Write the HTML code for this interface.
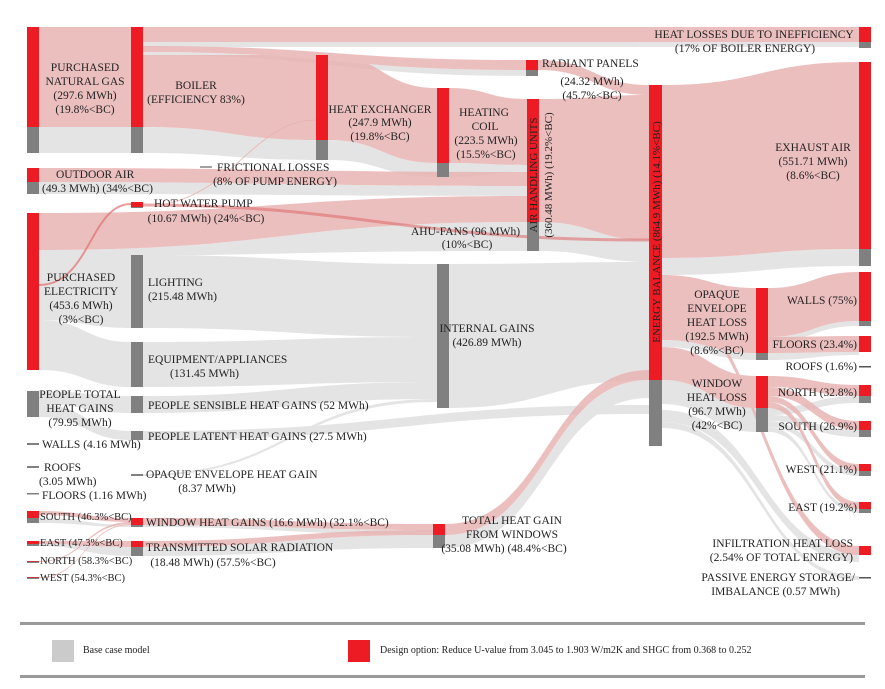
<!DOCTYPE html>
<html><head><meta charset="utf-8"><style>
html,body{margin:0;padding:0;background:#fff;}
svg{display:block;}
text{font-family:"Liberation Serif",serif;font-size:11.5px;fill:#222;}
.p{fill:#e9b4b4;opacity:.85}
.g{fill:#e2e2e2;opacity:.9}
.r{fill:#ed1c24}
.k{fill:#808080}
</style></head><body>
<svg width="885" height="689" viewBox="0 0 885 689" xmlns="http://www.w3.org/2000/svg">
<g class="g">
<rect x="39" y="127" width="92" height="26"/>
<rect x="143" y="42" width="716" height="5"/>
<path d="M143 52 C334 52 334 70 526 70 L526 76 C334 76 334 55 143 55Z"/>
<path d="M143 127 C230 127 230 140 316 140 L316 160 C230 160 230 153 143 153Z"/>
<path d="M328 140 C382 140 382 163 437 163 L437 177 C382 177 382 160 328 160Z"/>
<path d="M449 163 C488 163 488 165 527 165 L527 172 C488 172 488 177 449 177Z"/>
<path d="M39 182 C283 182 283 186 527 186 L527 196 C283 196 283 194 39 194Z"/>
<path d="M39 250 C283 250 283 222 527 222 L527 251 C283 251 283 256 39 256Z"/>
<path d="M539 222 C594 222 594 240 649 240 L649 262 C594 262 594 251 539 251Z"/>
<path d="M39 256 C85 256 85 255 131 255 L131 328 C85 328 85 320 39 320Z"/>
<path d="M39 320 C85 320 85 342 131 342 L131 387 C85 387 85 370 39 370Z"/>
<path d="M143 255 C290 255 290 264 437 264 L437 337 C290 337 290 328 143 328Z"/>
<path d="M143 342 C290 342 290 337 437 337 L437 382 C290 382 290 387 143 387Z"/>
<path d="M143 396 C290 396 290 382 437 382 L437 399 C290 399 290 413 143 413Z"/>
<path d="M143 474 C290 474 290 399 437 399 L437 402 C290 402 290 476 143 476Z"/>
<path d="M39 391 C85 391 85 396 131 396 L131 413 C85 413 85 404 39 404Z"/>
<path d="M39 404 C85 404 85 431 131 431 L131 440 C85 440 85 417 39 417Z"/>
<path d="M143 431 C400 431 400 405 649 405 L649 414 C400 414 400 440 143 440Z"/>
<path d="M449 264 C549 264 549 262 649 262 L649 380 C549 380 549 408 449 408Z"/>
<path d="M445 535 C547 535 547 380 649 380 L649 398 C547 398 547 548 445 548Z"/>
<path d="M39 518 C85 518 85 525 131 525 L131 527 C85 527 85 523 39 523Z"/>
<path d="M39 544 C85 544 85 547 131 547 L131 556 C85 556 85 546 39 546Z"/>
<path d="M143 547 C288 547 288 535 433 535 L433 548 C288 548 288 556 143 556Z"/>
<path d="M143 525 C288 525 288 530 433 530 L433 535 C288 535 288 527 143 527Z"/>
<path d="M662 258 C760 258 760 249 859 249 L859 266 C760 266 760 275 662 275Z"/>
<path d="M662 340 C709 340 709 353 756 353 L756 360 C709 360 709 347 662 347Z"/>
<path d="M662 380 C709 380 709 408 756 408 L756 432 C709 432 709 404 662 404Z"/>
<path d="M662 410 C760 410 760 553 859 553 L859 562 C760 562 760 422 662 422Z"/>
<path d="M662 422 C760 422 760 576 859 576 L859 580 C760 580 760 428 662 428Z"/>
<path d="M768 337 C813 337 813 321 859 321 L859 326 C813 326 813 342 768 342Z"/>
<path d="M768 353 C813 353 813 352 859 352 L859 355 C813 355 813 360 768 360Z"/>
<path d="M768 408 C813 408 813 396 859 396 L859 403 C813 403 813 415 768 415Z"/>
<path d="M768 415 C813 415 813 430 859 430 L859 437 C813 437 813 421 768 421Z"/>
<path d="M768 421 C813 421 813 471 859 471 L859 476 C813 476 813 427 768 427Z"/>
<path d="M768 427 C813 427 813 509 859 509 L859 513 C813 513 813 432 768 432Z"/>
</g>
<g class="p">
<rect x="39" y="27" width="92" height="100"/>
<rect x="143" y="27" width="716" height="15"/>
<path d="M143 46 C334 46 334 60 526 60 L526 70 C334 70 334 52 143 52Z"/>
<path d="M143 55 C230 55 230 55 316 55 L316 140 C230 140 230 127 143 127Z"/>
<path d="M328 55 C382 55 382 88 437 88 L437 163 C382 163 382 140 328 140Z"/>
<path d="M449 88 C488 88 488 99 527 99 L527 165 C488 165 488 163 449 163Z"/>
<path d="M538 60 C594 60 594 85 649 85 L649 95 C594 95 594 70 538 70Z"/>
<path d="M539 99 C594 99 594 95 649 95 L649 240 C594 240 594 222 539 222Z"/>
<path d="M39 168 C283 168 283 172 527 172 L527 186 C283 186 283 182 39 182Z"/>
<path d="M39 213 C283 213 283 196 527 196 L527 222 C283 222 283 250 39 250Z"/>
<path d="M445 524 C547 524 547 370 649 370 L649 380 C547 380 547 535 445 535Z"/>
<path d="M143 518 C288 518 288 524 433 524 L433 530 C288 530 288 525 143 525Z"/>
<path d="M143 541 C288 541 288 530 433 530 L433 535 C288 535 288 547 143 547Z"/>
<path d="M39 511 C85 511 85 518 131 518 L131 522 C85 522 85 515 39 515Z"/>
<path d="M39 541 C85 541 85 541 131 541 L131 547 C85 547 85 544 39 544Z"/>
<path d="M39 561 C85 561 85 522 131 522 L131 524 C85 524 85 562 39 562Z"/>
<path d="M39 577 C85 577 85 524 131 524 L131 525 C85 525 85 578 39 578Z"/>
<path d="M662 85 C760 85 760 62 859 62 L859 249 C760 249 760 258 662 258Z"/>
<path d="M662 275 C709 275 709 288 756 288 L756 353 C709 353 709 340 662 340Z"/>
<path d="M662 347 C709 347 709 376 756 376 L756 408 C709 408 709 380 662 380Z"/>
<path d="M662 300 C760 300 760 546 859 546 L859 555 C760 555 760 306 662 306Z"/>
<path d="M768 288 C813 288 813 272 859 272 L859 321 C813 321 813 337 768 337Z"/>
<path d="M768 337 C813 337 813 336 859 336 L859 352 C813 352 813 353 768 353Z"/>
<path d="M768 376 C813 376 813 385 859 385 L859 396 C813 396 813 387 768 387Z"/>
<path d="M768 387 C813 387 813 421 859 421 L859 430 C813 430 813 396 768 396Z"/>
<path d="M768 396 C813 396 813 464 859 464 L859 471 C813 471 813 402 768 402Z"/>
<path d="M768 402 C813 402 813 502 859 502 L859 509 C813 509 813 408 768 408Z"/>
</g>
<path d="M39 285 C90 285 90 204 131 204" fill="none" stroke="#e07070" stroke-width="2" opacity=".7"/>
<path d="M143 205 C360 205 400 240 649 240" fill="none" stroke="#e07070" stroke-width="3" opacity=".6"/>
<path d="M143 206 C230 206 250 120 316 120" fill="none" stroke="#e8b0b0" stroke-width="1" opacity=".8"/>
<rect class="r" x="27" y="27" width="12" height="100"/><rect class="k" x="27" y="127" width="12" height="26"/>
<rect class="r" x="131" y="27" width="12" height="100"/><rect class="k" x="131" y="127" width="12" height="26"/>
<rect class="r" x="316" y="55" width="12" height="85"/><rect class="k" x="316" y="140" width="12" height="20"/>
<rect class="r" x="437" y="88" width="12" height="75"/><rect class="k" x="437" y="163" width="12" height="14"/>
<rect class="r" x="526" y="60" width="12" height="10"/><rect class="k" x="526" y="70" width="12" height="6"/>
<rect class="r" x="527" y="99" width="12" height="123"/><rect class="k" x="527" y="222" width="12" height="29"/>
<rect class="r" x="649" y="85" width="13" height="295"/><rect class="k" x="649" y="380" width="13" height="66"/>
<rect class="r" x="859" y="27" width="12" height="15"/><rect class="k" x="859" y="42" width="12" height="6"/>
<rect class="r" x="859" y="62" width="12" height="187"/><rect class="k" x="859" y="249" width="12" height="17"/>
<rect class="r" x="27" y="168" width="12" height="14"/><rect class="k" x="27" y="182" width="12" height="12"/>
<rect class="r" x="131" y="202" width="12" height="5"/><rect class="k" x="131" y="207" width="12" height="1"/>
<rect class="r" x="27" y="213" width="12" height="157"/>
<rect class="k" x="131" y="255" width="12" height="73"/>
<rect class="k" x="131" y="342" width="12" height="45"/>
<rect class="k" x="27" y="391" width="12" height="26"/>
<rect class="k" x="131" y="396" width="12" height="17"/>
<rect class="k" x="131" y="431" width="12" height="9"/>
<rect class="k" x="27" y="443" width="12" height="2"/>
<rect class="k" x="27" y="466" width="12" height="2"/>
<rect class="k" x="27" y="493" width="12" height="1.5"/>
<rect class="k" x="131" y="474" width="12" height="2"/>
<rect class="r" x="27" y="511" width="12" height="7"/><rect class="k" x="27" y="518" width="12" height="5"/>
<rect class="r" x="27" y="541" width="12" height="3"/><rect class="k" x="27" y="544" width="12" height="2"/>
<rect class="k" x="27" y="561" width="12" height="2"/><rect x="27" y="561" width="12" height="1" fill="#c04040"/>
<rect class="k" x="27" y="577" width="12" height="2"/><rect x="27" y="577" width="12" height="1" fill="#c04040"/>
<rect class="r" x="131" y="518" width="12" height="7"/><rect class="k" x="131" y="525" width="12" height="2"/>
<rect class="r" x="131" y="541" width="12" height="6"/><rect class="k" x="131" y="547" width="12" height="9"/>
<rect class="k" x="437" y="264" width="12" height="144"/>
<rect class="r" x="433" y="524" width="12" height="11"/><rect class="k" x="433" y="535" width="12" height="13"/>
<rect class="r" x="756" y="288" width="12" height="65"/><rect class="k" x="756" y="353" width="12" height="7"/>
<rect class="r" x="756" y="376" width="12" height="32"/><rect class="k" x="756" y="408" width="12" height="24"/>
<rect class="r" x="859" y="272" width="12" height="49"/><rect class="k" x="859" y="321" width="12" height="5"/>
<rect class="r" x="859" y="336" width="12" height="16"/>
<rect x="859" y="366" width="12" height="1.5" fill="#555"/>
<rect class="r" x="859" y="385" width="12" height="11"/><rect class="k" x="859" y="396" width="12" height="7"/>
<rect class="r" x="859" y="421" width="12" height="9"/><rect class="k" x="859" y="430" width="12" height="7"/>
<rect class="r" x="859" y="464" width="12" height="7"/><rect class="k" x="859" y="471" width="12" height="5"/>
<rect class="r" x="859" y="502" width="12" height="7"/><rect class="k" x="859" y="509" width="12" height="4"/>
<rect class="r" x="859" y="546" width="12" height="9"/>
<rect x="859" y="577" width="12" height="1.5" fill="#555"/>
<line x1="200" y1="167" x2="212" y2="167" stroke="#444"/>
<g text-anchor="middle">
<text x="85" y="71">PURCHASED</text><text x="85" y="85">NATURAL GAS</text><text x="85" y="99">(297.6 MWh)</text><text x="85" y="113">(19.8%&lt;BC)</text>
<text x="196" y="89">BOILER</text><text x="196" y="103">(EFFICIENCY 83%)</text>
<text x="380" y="113">HEAT EXCHANGER</text><text x="380" y="126">(247.9 MWh)</text><text x="380" y="140">(19.8%&lt;BC)</text>
<text x="484" y="116">HEATING</text><text x="485" y="130">COIL</text><text x="486" y="144">(223.5 MWh)</text><text x="486" y="158">(15.5%&lt;BC)</text>
<text x="592" y="85">(24.32 MWh)</text><text x="592" y="99">(45.7%&lt;BC)</text>
<text x="754" y="38">HEAT LOSSES DUE TO INEFFICIENCY</text><text x="745" y="52">(17% OF BOILER ENERGY)</text>
<text x="813" y="151">EXHAUST AIR</text><text x="813" y="165">(551.71 MWh)</text><text x="813" y="179">(8.6%&lt;BC)</text>
<text x="275" y="185">(8% OF PUMP ENERGY)</text>
<text x="206" y="222">(10.67 MWh) (24%&lt;BC)</text>
<text x="467" y="248">(10%&lt;BC)</text>
<text x="81" y="281">PURCHASED</text><text x="81" y="295">ELECTRICITY</text><text x="81" y="309">(453.6 MWh)</text><text x="81" y="323">(3%&lt;BC)</text>
<text x="80" y="398">PEOPLE TOTAL</text><text x="80" y="412">HEAT GAINS</text><text x="80" y="426">(79.95 MWh)</text>
<text x="487" y="332">INTERNAL GAINS</text><text x="487" y="346">(426.89 MWh)</text>
<text x="207" y="492">(8.37 MWh)</text>
<text x="213" y="566">(18.48 MWh) (57.5%&lt;BC)</text>
<text x="512" y="524">TOTAL HEAT GAIN</text><text x="512" y="538">FROM WINDOWS</text><text x="504" y="552">(35.08 MWh) (48.4%&lt;BC)</text>
<text x="717" y="298">OPAQUE</text><text x="717" y="312">ENVELOPE</text><text x="717" y="326">HEAT LOSS</text><text x="717" y="340">(192.5 MWh)</text><text x="717" y="354">(8.6%&lt;BC)</text>
<text x="717" y="387">WINDOW</text><text x="717" y="401">HEAT LOSS</text><text x="717" y="415">(96.7 MWh)</text><text x="717" y="429">(42%&lt;BC)</text>
</g>
<text x="542" y="67">RADIANT PANELS</text>
<text x="56" y="178">OUTDOOR AIR</text><text x="42" y="192">(49.3 MWh) (34%&lt;BC)</text>
<text x="217" y="171">FRICTIONAL LOSSES</text>
<text x="154" y="207">HOT WATER PUMP</text>
<text x="411" y="235">AHU-FANS (96 MWh)</text>
<text x="148" y="286">LIGHTING</text><text x="148" y="300">(215.48 MWh)</text>
<text x="148" y="363">EQUIPMENT/APPLIANCES</text><text x="170" y="377">(131.45 MWh)</text>
<text x="148" y="409">PEOPLE SENSIBLE HEAT GAINS (52 MWh)</text>
<text x="148" y="440">PEOPLE LATENT HEAT GAINS (27.5 MWh)</text>
<text x="42" y="448">WALLS (4.16 MWh)</text>
<text x="44" y="471">ROOFS</text><text x="39" y="485">(3.05 MWh)</text>
<text x="42" y="499">FLOORS (1.16 MWh)</text>
<text x="146" y="478">OPAQUE ENVELOPE HEAT GAIN</text>
<text x="40" y="520" style="font-size:10.5px">SOUTH (46.3%&lt;BC)</text>
<text x="146" y="526">WINDOW HEAT GAINS (16.6 MWh) (32.1%&lt;BC)</text>
<text x="40" y="546" style="font-size:10.5px">EAST (47.3%&lt;BC)</text>
<text x="146" y="551">TRANSMITTED SOLAR RADIATION</text>
<text x="40" y="564" style="font-size:10.5px">NORTH (58.3%&lt;BC)</text>
<text x="40" y="581" style="font-size:10.5px">WEST (54.3%&lt;BC)</text>
<g text-anchor="end">
<text x="857" y="304">WALLS (75%)</text>
<text x="857" y="348">FLOORS (23.4%)</text>
<text x="857" y="370">ROOFS (1.6%)</text>
<text x="857" y="396">NORTH (32.8%)</text>
<text x="857" y="430">SOUTH (26.9%)</text>
<text x="857" y="473">WEST (21.1%)</text>
<text x="857" y="511">EAST (19.2%)</text>
<text x="853" y="547">INFILTRATION HEAT LOSS</text>
<text x="853" y="561">(2.54% OF TOTAL ENERGY)</text>
<text x="855" y="581">PASSIVE ENERGY STORAGE/</text>
<text x="840" y="595">IMBALANCE (0.57 MWh)</text>
</g>
<text transform="translate(537,175) rotate(-90)" text-anchor="middle" style="font-size:11px">AIR HANDLING UNITS</text>
<text transform="translate(552,175) rotate(-90)" text-anchor="middle" style="font-size:11px">(360.48 MWh) (19.2%&lt;BC)</text>
<text transform="translate(660,232) rotate(-90)" text-anchor="middle" style="font-size:11px">ENERGY BALANCE (864.9 MWh) (14.1%&lt;BC)</text>
<rect x="20" y="622" width="845" height="3" fill="#999"/>
<rect x="20" y="675" width="845" height="3" fill="#999"/>
<rect x="52" y="640" width="22" height="22" fill="#cbcbcb"/>
<text x="83" y="653" style="font-size:10px">Base case model</text>
<rect x="348" y="640" width="22" height="22" fill="#ed1c24"/>
<text x="380" y="653" style="font-size:10px">Design option: Reduce U-value from 3.045 to 1.903 W/m2K and SHGC from 0.368 to 0.252</text>
</svg>
</body></html>
